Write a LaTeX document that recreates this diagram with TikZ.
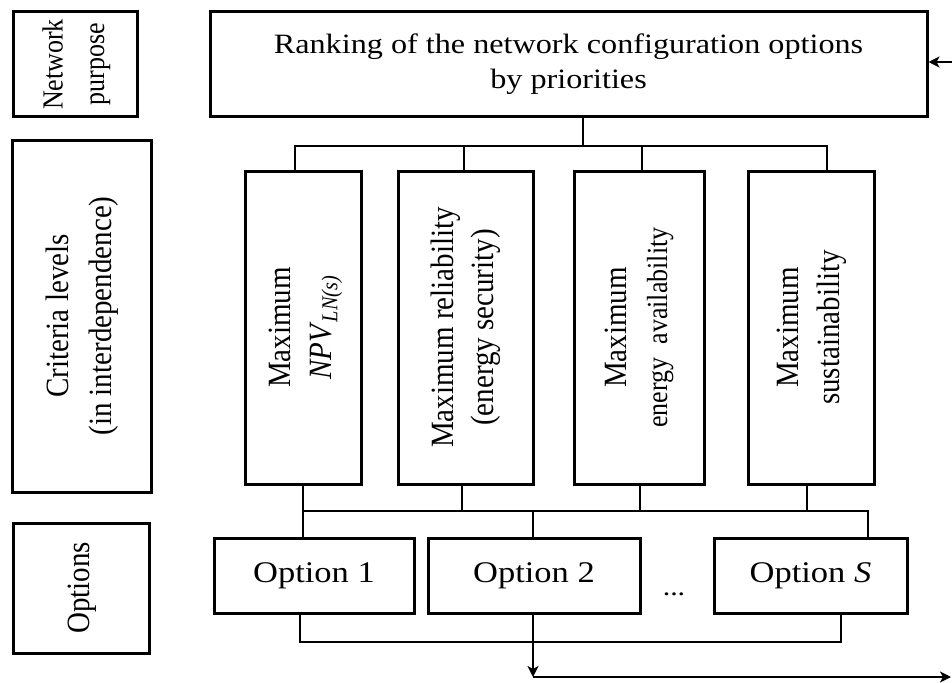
\documentclass[tikz,border=0pt]{standalone}
\usepackage{fontspec}
\setmainfont{Liberation Serif}
\usepackage{graphicx}
\usetikzlibrary{arrows.meta}

\newcommand{\uptext}[1]{\rotatebox{90}{\scalebox{1}[1.12]{\begin{tabular}{@{}c@{}}#1\end{tabular}}}}
\newcommand{\widetext}[1]{\scalebox{1.15}[1]{\begin{tabular}{@{}c@{}}#1\end{tabular}}}

\tikzset{
  box/.style={draw, line width=3pt, inner sep=0pt, align=center},
  critbox/.style={box, minimum height=313pt, font=\fontsize{29}{36}\selectfont},
  optbox/.style={box, minimum height=75pt, font=\fontsize{30}{36}\selectfont},
  link/.style={line width=2.6pt},
  arrowed/.style={-{Stealth[length=11pt,width=11pt,inset=3pt]}},
}

\begin{document}
\begin{tikzpicture}[x=1pt,y=-1pt]
    \useasboundingbox (0,0) rectangle (952,682);

    % Left column
    \node[box, minimum width=124pt, minimum height=105pt, font=\fontsize{26}{37}\selectfont] (purp) at (75,64.5) {\uptext{Network\\purpose}};
    \node[box, minimum width=139pt, minimum height=352pt, font=\fontsize{29}{38}\selectfont] (crit) at (81.5,316) {\uptext{Criteria levels\\(in interdependence)}};
    \node[box, minimum width=136pt, minimum height=130pt, font=\fontsize{29}{36}\selectfont] (opts) at (81,588) {\uptext{Options}};

    % Goal
    \node[box, minimum width=717pt, minimum height=105pt, font=\fontsize{28}{35}\selectfont] (rank) at (568.5,64.5) {\widetext{Ranking of the network configuration options\\by priorities}};

    % Criteria
    \node[critbox, minimum width=116pt] (c1) at (303,327.5) {\uptext{Maximum\\\textit{NPV}\textsubscript{\textit{LN(s)}}}};
    \node[critbox, minimum width=135pt] (c2) at (465.5,327.5) {\uptext{Maximum reliability\\(energy security)}};
    \node[critbox, minimum width=130pt] (c3) at (639,327.5) {\uptext{Maximum\\{\fontsize{26}{36}\selectfont energy\ \ availability}}};
    \node[critbox, minimum width=126pt] (c4) at (811,327.5) {\uptext{Maximum\\sustainability}};

    % Options
    \node[optbox, minimum width=200pt] (o1) at (314,575.5) {\widetext{Option 1}};
    \node[optbox, minimum width=212pt] (o2) at (534,575.5) {\widetext{Option 2}};
    \node[optbox, minimum width=193pt] (oS) at (810.5,575.5) {\widetext{Option \textit{S}}};
    \node[font=\fontsize{26}{30}\selectfont, inner sep=0pt] (dots) at (674,594) {\scalebox{1.15}[1]{...}};

    \coordinate (top) at (583,146);
    \coordinate (t1) at (295,146);
    \coordinate (t2) at (464,146);
    \coordinate (t3) at (642,146);
    \coordinate (t4) at (827,146);
    \coordinate (m1) at (303,511);
    \coordinate (m2) at (462,511);
    \coordinate (m3) at (640,511);
    \coordinate (m4) at (807,511);
    \coordinate (n2) at (533,511);
    \coordinate (n3) at (868,511);
    \coordinate (b1) at (300,642);
    \coordinate (b2) at (841,642);
    \coordinate (out) at (533,677);
    \coordinate (outR) at (951,677);
    \coordinate (inR) at (956,62);

    % Lines
    \draw[link] (rank.south -| top) -- (top);
    \draw[link] (c1.north -| t1) -- (t1) -- (t4) -- (c4.north -| t4);
    \draw[link] (t2) -- (c2.north -| t2);
    \draw[link] (t3) -- (c3.north -| t3);

    \draw[link] (c1.south -| m1) -- (o1.north -| m1);
    \draw[link] (c2.south -| m2) -- (m2);
    \draw[link] (c3.south -| m3) -- (m3);
    \draw[link] (c4.south -| m4) -- (m4);
    \draw[link] (m1) -- (n3) -- (oS.north -| n3);
    \draw[link] (n2) -- (o2.north -| n2);

    \draw[link] (o1.south -| b1) -- (b1) -- (b2) -- (oS.south -| b2);
    \draw[link,arrowed] (o2.south -| out) -- (out);
    \draw[link,arrowed] (out) -- (outR);
    \draw[link,arrowed] (inR) -- (rank.east |- inR);
\end{tikzpicture}
\end{document}
